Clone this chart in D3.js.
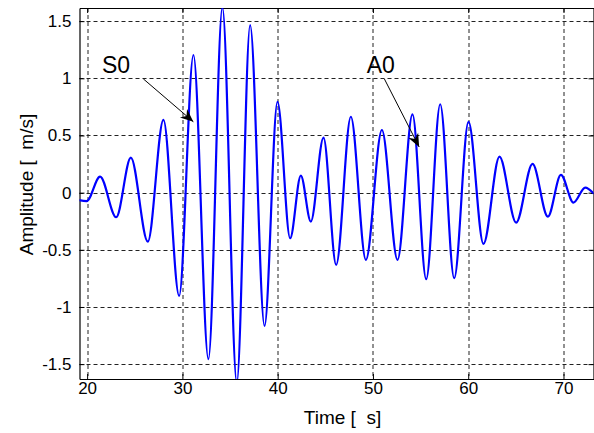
<!DOCTYPE html>
<html>
<head>
<meta charset="utf-8">
<script src="https://cdn.jsdelivr.net/npm/d3@7/dist/d3.min.js"></script>
<style>
  body { margin: 0; background: #fff; }
  text { font-family: "Liberation Sans", Arial, Helvetica, sans-serif; }
</style>
</head>
<body>
<div id="chart"></div>
<script>
// waveform: start, then each peak / trough, then end
var timeValues = [19.15, 19.95, 21.36, 23.05, 24.59, 26.37, 28.01, 29.66, 31.16, 32.73,
                  34.2, 35.71, 37.11, 38.62, 39.98, 41.31, 42.43, 43.48, 44.81, 46.14,
                  47.68, 49.26, 50.94, 52.58, 54.15, 55.59, 57.06, 58.53, 60.03, 61.6,
                  63.28, 65.03, 66.75, 68.36, 69.73, 71.05, 72.28, 73.2];
var ampValues = [-0.065, -0.075, 0.14, -0.215, 0.306, -0.428, 0.636, -0.903, 1.204, -1.456,
                 1.62, -1.66, 1.466, -1.165, 0.795, -0.399, 0.149, -0.253, 0.481, -0.632,
                 0.664, -0.588, 0.548, -0.588, 0.685, -0.757, 0.773, -0.748, 0.62, -0.448,
                 0.315, -0.262, 0.251, -0.21, 0.155, -0.087, 0.044, -0.01];

var xTicks = [20, 30, 40, 50, 60, 70];
var yTicks = [-1.5, -1, -0.5, 0, 0.5, 1, 1.5];

// annotations (data units)
var noteNames = ["S0", "A0"];
var noteTime = [21.55, 49.35];
var noteAmp = [1.045, 1.045];
var arrowStart = [[25.9, 0.995], [51.2, 0.995]];
var arrowEnd = [[31.15, 0.62], [54.85, 0.40]];

var svgWidth = 594;
var svgHeight = 433;

var chartMargin = {
    top: 8,
    right: 0.5,
    bottom: 54,
    left: 79.5
};

var chartWidth = svgWidth - chartMargin.left - chartMargin.right;
var chartHeight = svgHeight - chartMargin.top - chartMargin.bottom;

var svg = d3.select("#chart")
            .append("svg")
            .attr("width", svgWidth)
            .attr("height", svgHeight);

var defs = svg.append("defs");
defs.append("clipPath")
    .attr("id", "plotClip")
    .append("rect")
    .attr("width", chartWidth)
    .attr("height", chartHeight);

defs.append("marker")
    .attr("id", "head")
    .attr("viewBox", "-14 -7 16 14")
    .attr("refX", 0)
    .attr("refY", 0)
    .attr("markerWidth", 16)
    .attr("markerHeight", 14)
    .attr("markerUnits", "userSpaceOnUse")
    .attr("orient", "auto")
    .append("path")
    .attr("d", "M0,0 L-13,-5.5 L-9,0 L-13,5.5 Z")
    .attr("fill", "#000");

var chartGroup = svg.append("g")
                    .attr("transform", `translate(${chartMargin.left}, ${chartMargin.top})`);

var xScale = d3.scaleLinear()
               .domain([19.2, 73.15])
               .range([0, chartWidth]);

var yScale = d3.scaleLinear()
               .domain([-1.63, 1.615])
               .range([chartHeight, 0]);

// grid
chartGroup.append("g")
    .selectAll("line")
    .data(xTicks)
    .enter()
    .append("line")
    .attr("x1", d => Math.round(xScale(d)) + 0.5)
    .attr("x2", d => Math.round(xScale(d)) + 0.5)
    .attr("y1", 0)
    .attr("y2", chartHeight)
    .attr("stroke", "#222")
    .attr("stroke-dasharray", "4,3");

chartGroup.append("g")
    .selectAll("line")
    .data(yTicks)
    .enter()
    .append("line")
    .attr("x1", 0)
    .attr("x2", chartWidth)
    .attr("y1", d => Math.round(yScale(d)) + 0.5)
    .attr("y2", d => Math.round(yScale(d)) + 0.5)
    .attr("stroke", "#222")
    .attr("stroke-dasharray", "4,3");

// axes (ticks pointing inward, MATLAB style)
var fmt = d => String(d);

var xAxis = d3.axisBottom(xScale).tickValues(xTicks).tickFormat(fmt).tickSizeInner(-5).tickSizeOuter(0).tickPadding(3);
var yAxis = d3.axisLeft(yScale).tickValues(yTicks).tickFormat(fmt).tickSizeInner(-5).tickSizeOuter(0).tickPadding(8);
var xTop = d3.axisTop(xScale).tickValues(xTicks).tickFormat("").tickSizeInner(-5).tickSizeOuter(0);
var yRight = d3.axisRight(yScale).tickValues(yTicks).tickFormat("").tickSizeInner(-5).tickSizeOuter(0);

chartGroup.append("g")
    .attr("transform", `translate(0, ${chartHeight})`)
    .call(xAxis);
chartGroup.append("g")
    .call(yAxis);
chartGroup.append("g").call(xTop);
chartGroup.append("g").attr("transform", `translate(${chartWidth}, 0)`).call(yRight);

chartGroup.selectAll(".tick text")
    .attr("font-size", 17)
    .attr("font-family", "Liberation Sans, Arial, sans-serif")
    .attr("fill", "#000");
chartGroup.selectAll(".domain").attr("stroke", "#000").attr("stroke-width", 1.2);
chartGroup.selectAll(".tick line").attr("stroke", "#000");

// signal
var line = d3.line()
    .x((d, i) => xScale(timeValues[i]))
    .y(d => yScale(d))
    .curve(d3.curveMonotoneX);

chartGroup.append("path")
    .datum(ampValues)
    .attr("clip-path", "url(#plotClip)")
    .attr("d", line)
    .attr("fill", "none")
    .attr("stroke", "#0000ff")
    .attr("stroke-width", 2.2)
    .attr("stroke-linejoin", "round");

// annotations
chartGroup.selectAll(".note")
    .data(noteNames)
    .enter()
    .append("text")
    .attr("class", "note")
    .attr("x", (d, i) => xScale(noteTime[i]))
    .attr("y", (d, i) => yScale(noteAmp[i]))
    .attr("font-size", 23)
    .text(d => d);

chartGroup.selectAll(".arrow")
    .data(arrowStart)
    .enter()
    .append("line")
    .attr("class", "arrow")
    .attr("x1", d => xScale(d[0]))
    .attr("y1", d => yScale(d[1]))
    .attr("x2", (d, i) => xScale(arrowEnd[i][0]))
    .attr("y2", (d, i) => yScale(arrowEnd[i][1]))
    .attr("stroke", "#000")
    .attr("stroke-width", 1)
    .attr("marker-end", "url(#head)");

// axis labels
chartGroup.append("text")
    .attr("x", chartWidth / 2 + 6)
    .attr("y", chartHeight + 45)
    .attr("text-anchor", "middle")
    .attr("font-size", 19)
    .style("white-space", "pre")
    .text("Time [  s]");

chartGroup.append("text")
    .attr("transform", `translate(-46.5, ${chartHeight / 2 - 9}) rotate(-90)`)
    .attr("text-anchor", "middle")
    .attr("font-size", 19)
    .style("white-space", "pre")
    .text("Amplitude [  m/s]");
</script>
</body>
</html>
